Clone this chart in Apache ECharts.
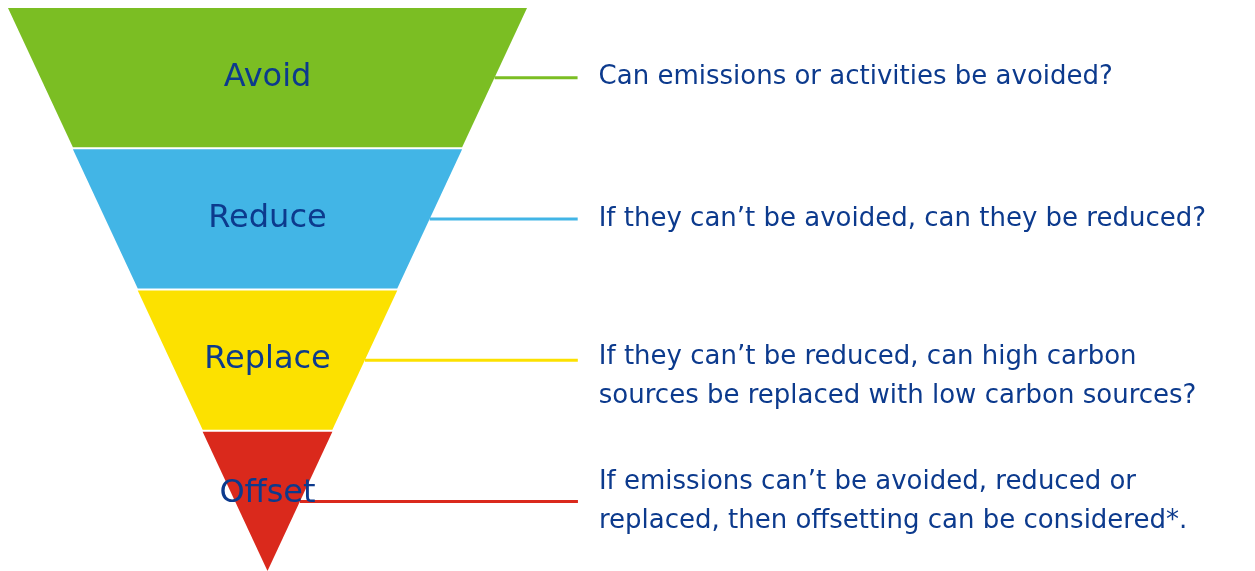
<!DOCTYPE html>
<html>
<head>
<meta charset="utf-8">
<style>
  html, body { margin: 0; padding: 0; background: #fff; }
  #hierarchy { width: 1255px; height: 571px; }
</style>
<script src="https://cdn.jsdelivr.net/npm/echarts@6/dist/echarts.min.js"></script>
</head>
<body>
<div id="hierarchy"></div>
<script>
var stages = ['Avoid', 'Reduce', 'Replace', 'Offset'];
var levels = [4, 3, 2, 1];
var questions = [
    ['Can emissions or activities be avoided?'],
    ['If they can\u2019t be avoided, can they be reduced?'],
    ['If they can\u2019t be reduced, can high carbon', 'sources be replaced with low carbon sources?'],
    ['If emissions can\u2019t be avoided, reduced or', 'replaced, then offsetting can be considered*.']
];

// styling
var colors = ['#7bbe23', '#42b5e6', '#fce100', '#da291c'];
var lineLengths = [83, 148, 213, 278];
var textColor = '#0c3a8d';
var fontFamily = '"DejaVu Sans", "Noto Sans", sans-serif';

var chartDom = document.getElementById('hierarchy');
var myChart = echarts.init(chartDom);

var funnelBox = {
    type: 'funnel',
    left: 8,
    top: 8,
    width: 519,
    height: 563,
    min: 0,
    max: 4,
    minSize: '0%',
    maxSize: '100%',
    sort: 'none',
    gap: 2,
    funnelAlign: 'center',
    silent: true
};

var option = {
    animation: false,
    series: [
        // questions on the right with the connecting lines
        Object.assign({}, funnelBox, {
            z: 1,
            itemStyle: { color: 'rgba(0,0,0,0)', borderWidth: 0 },
            label: {
                show: true,
                position: 'right',
                padding: [0, 0, 0, 16],
                rich: {
                    t: { color: textColor, fontFamily: fontFamily, fontSize: 26, lineHeight: 39 },
                    gap: { fontSize: 1, lineHeight: 34 }
                }
            },
            data: stages.map(function (name, i) {
                var lines = questions[i].map(function (s) { return '{t|' + s + '}'; });
                if (i === 2) {
                    // push the two-line text a little lower, like the original
                    lines.unshift('{gap| }');
                }
                return {
                    name: name,
                    value: levels[i],
                    label: { formatter: lines.join('\n') },
                    labelLine: {
                        show: true,
                        length: lineLengths[i],
                        lineStyle: { color: colors[i], width: 3 }
                    }
                };
            })
        }),
        // the coloured hierarchy
        Object.assign({}, funnelBox, {
            z: 2,
            itemStyle: { borderWidth: 0 },
            label: {
                show: true,
                position: 'inside',
                rich: {
                    s: { color: textColor, fontFamily: fontFamily, fontSize: 32, lineHeight: 40 },
                    gap: { fontSize: 1, lineHeight: 16 }
                }
            },
            data: stages.map(function (name, i) {
                return {
                    name: name,
                    value: levels[i],
                    itemStyle: { color: colors[i] },
                    label: {
                        formatter: i === 3 ? '{s|' + name + '}\n{gap| }' : '{s|' + name + '}'
                    }
                };
            })
        })
    ]
};

myChart.setOption(option);

window.addEventListener('resize', function () {
    myChart.resize();
});
</script>
</body>
</html>
